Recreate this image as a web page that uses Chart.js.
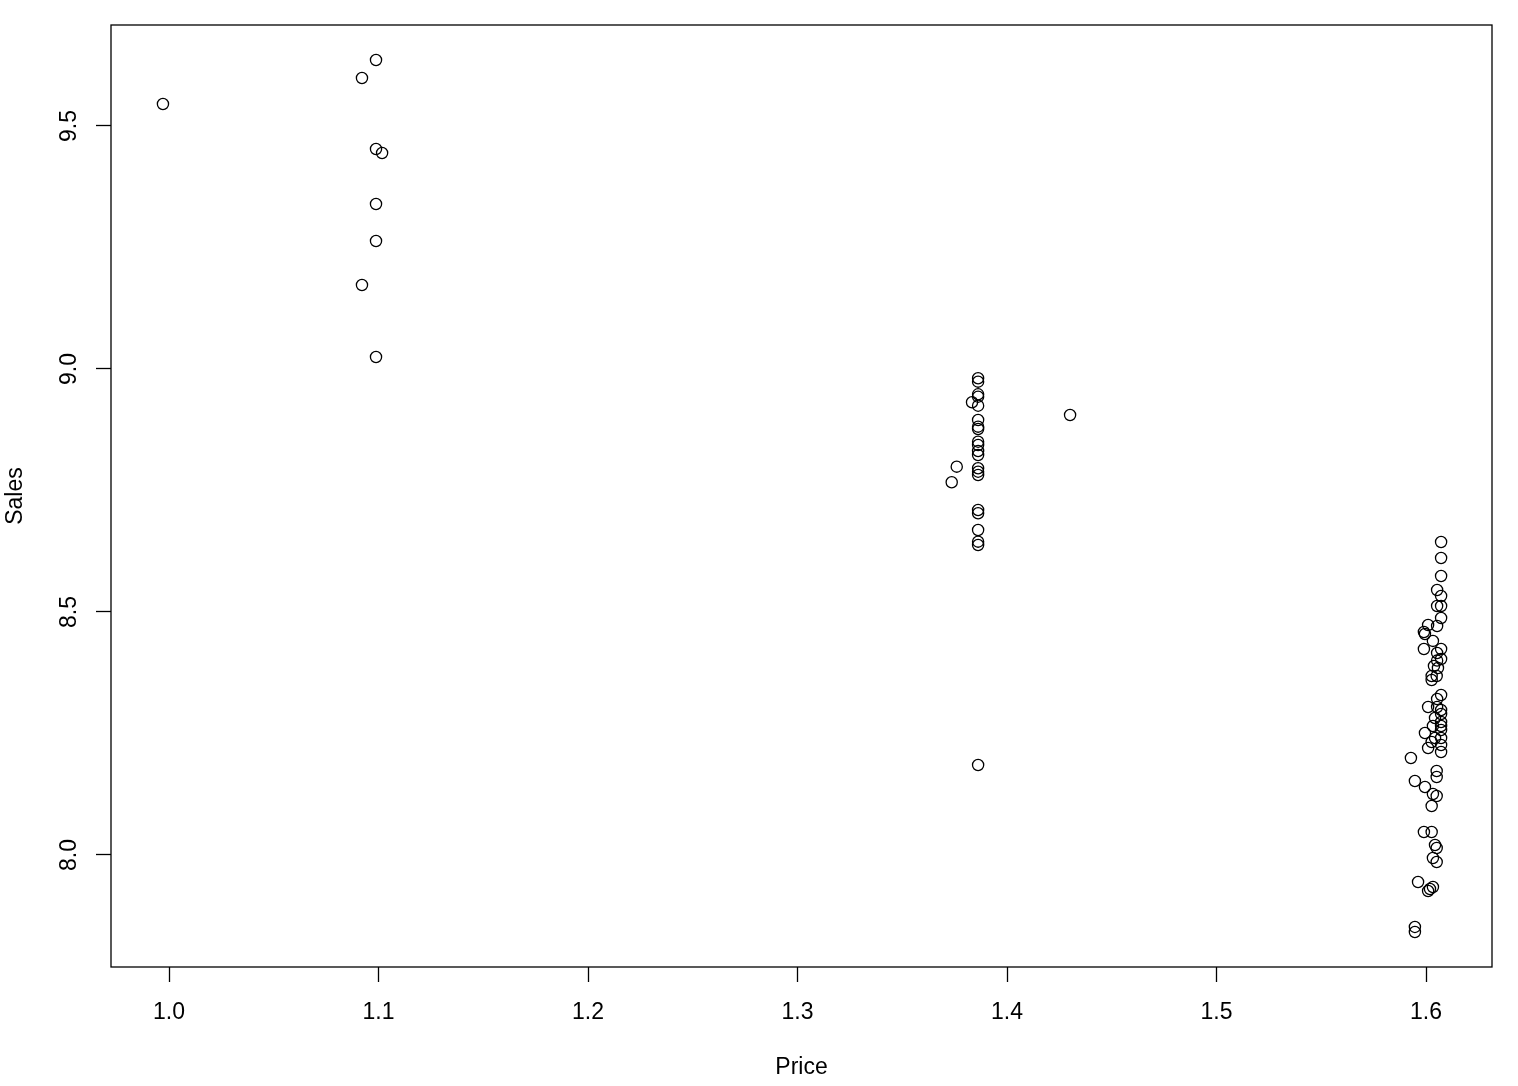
<!DOCTYPE html>
<html>
<head>
<meta charset="utf-8">
<title>Sales vs Price</title>
<script src="https://cdn.jsdelivr.net/npm/chart.js@4.4.1/dist/chart.umd.min.js"></script>
<style>
  html, body { margin: 0; padding: 0; background: #fff; }
  #wrap { width: 1518px; height: 1086px; }
</style>
</head>
<body>
<div id="wrap"><canvas id="scatter"></canvas></div>
<script>
// ─── Data ───────────────────────────────────────────────────
const price = [
  0.9971, 1.0921, 1.0988, 1.0988, 1.1017, 1.0988, 1.0988, 1.0921, 1.0988,
  1.3862, 1.3862, 1.3862, 1.3862, 1.3833, 1.3862, 1.3862, 1.3862, 1.3862, 1.3862,
  1.3862, 1.3862, 1.3862, 1.3862, 1.3862, 1.3862, 1.3862, 1.3862, 1.3862, 1.3862,
  1.3862, 1.3862, 1.3760, 1.3736, 1.4301,
  1.6072, 1.6072, 1.6072, 1.6053, 1.6072, 1.6053, 1.6072, 1.6072, 1.6053, 1.6010,
  1.5990, 1.5995, 1.6033, 1.5990, 1.6072, 1.6053, 1.6072, 1.6053, 1.6038, 1.6057,
  1.6027, 1.6051, 1.6027, 1.6072, 1.6053, 1.6010, 1.6053, 1.6072, 1.6072, 1.6043,
  1.6072, 1.6072, 1.6033, 1.6072, 1.5995, 1.6043, 1.6072, 1.6027, 1.6072, 1.6010,
  1.6072, 1.5928, 1.6051, 1.6051, 1.5947, 1.5995, 1.6033, 1.6051, 1.6027, 1.5990,
  1.6027, 1.6043, 1.6051, 1.6033, 1.6051, 1.5962, 1.6033, 1.6019, 1.6010, 1.5947,
  1.5947,
];
const sales = [
  9.5453, 9.5988, 9.6358, 9.4527, 9.4444, 9.3395, 9.2634, 9.1728, 9.0247,
  8.9809, 8.9739, 8.9479, 8.9430, 8.9315, 8.9245, 8.8951, 8.8813, 8.8765, 8.8504,
  8.8436, 8.8313, 8.8230, 8.7957, 8.7887, 8.7819, 8.7099, 8.7031, 8.6687, 8.6447,
  8.6379, 8.1852, 8.7990, 8.7669, 8.9053,
  8.6440, 8.6111, 8.5741, 8.5453, 8.5329, 8.5123, 8.5123, 8.4877, 8.4712, 8.4733,
  8.4588, 8.4547, 8.4405, 8.4239, 8.4239, 8.4156, 8.4033, 8.4000, 8.3889, 8.3847,
  8.3683, 8.3683, 8.3601, 8.3292, 8.3210, 8.3045, 8.3045, 8.2984, 8.2901, 8.2819,
  8.2737, 8.2654, 8.2654, 8.2572, 8.2510, 8.2407, 8.2407, 8.2325, 8.2263, 8.2202,
  8.2119, 8.1996, 8.1728, 8.1605, 8.1523, 8.1399, 8.1255, 8.1214, 8.1008, 8.0473,
  8.0473, 8.0206, 8.0144, 7.9938, 7.9856, 7.9444, 7.9342, 7.9300, 7.9259, 7.8519,
  7.8416,
];
const xTicks = [1.0, 1.1, 1.2, 1.3, 1.4, 1.5, 1.6];
const yTicks = [8.0, 8.5, 9.0, 9.5];
const xTitle = 'Price';
const yTitle = 'Sales';

const FONT = "'Liberation Sans', Arial, Helvetica, sans-serif";

// ─── Plugins ────────────────────────────────────────────────
const boxAndLabels = {
  id: 'boxAndLabels',
  afterDraw(chart) {
    const { ctx, chartArea: a, scales: { y } } = chart;
    ctx.save();
    ctx.strokeStyle = '#000';
    ctx.lineWidth = 1.3;
    ctx.strokeRect(a.left, a.top, a.right - a.left, a.bottom - a.top);
    // R-style rotated y tick labels
    ctx.fillStyle = '#000';
    ctx.font = `23px ${FONT}`;
    ctx.textAlign = 'center';
    ctx.textBaseline = 'middle';
    yTicks.forEach(v => {
      ctx.save();
      ctx.translate(a.left - 41, y.getPixelForValue(v));
      ctx.rotate(-Math.PI / 2);
      ctx.fillText(v.toFixed(1), 0, 0);
      ctx.restore();
    });
    ctx.restore();
  },
};

// ─── Chart ──────────────────────────────────────────────────
new Chart(document.getElementById('scatter'), {
  type: 'scatter',
  data: {
    datasets: [{
      data: price.map((p, i) => ({ x: p, y: sales[i] })),
      pointStyle: 'circle',
      pointRadius: 5.6,
      pointHoverRadius: 5.6,
      borderColor: '#000',
      borderWidth: 1.3,
      backgroundColor: 'rgba(0,0,0,0)',
    }],
  },
  options: {
    responsive: true,
    maintainAspectRatio: false,
    animation: false,
    events: [],
    layout: { padding: { top: 25, right: 26, left: 0, bottom: 0 } },
    plugins: { legend: { display: false }, tooltip: { enabled: false } },
    scales: {
      x: {
        type: 'linear',
        min: 0.9723,
        max: 1.6315,
        afterBuildTicks: s => { s.ticks = xTicks.map(v => ({ value: v })); },
        afterFit: s => { s.height = 119; },
        grid: { drawOnChartArea: false, drawTicks: true, tickLength: 15, tickColor: '#000', tickWidth: 1.3 },
        border: { display: false },
        ticks: {
          color: '#000',
          padding: 17,
          maxRotation: 0,
          font: { size: 23, family: FONT },
          callback: v => v.toFixed(1),
        },
        title: {
          display: true,
          text: xTitle,
          color: '#000',
          font: { size: 23, family: FONT },
          padding: { top: 0, bottom: 5 },
        },
      },
      y: {
        type: 'linear',
        min: 7.7695,
        max: 9.7078,
        afterBuildTicks: s => { s.ticks = yTicks.map(v => ({ value: v })); },
        afterFit: s => { s.width = 111; },
        grid: { drawOnChartArea: false, drawTicks: true, tickLength: 15, tickColor: '#000', tickWidth: 1.3 },
        border: { display: false },
        ticks: { color: 'rgba(0,0,0,0)', font: { size: 23, family: FONT } },
        title: {
          display: true,
          text: yTitle,
          color: '#000',
          font: { size: 23, family: FONT },
          padding: { top: 2, bottom: 0 },
        },
      },
    },
  },
  plugins: [boxAndLabels],
});
</script>
</body>
</html>
